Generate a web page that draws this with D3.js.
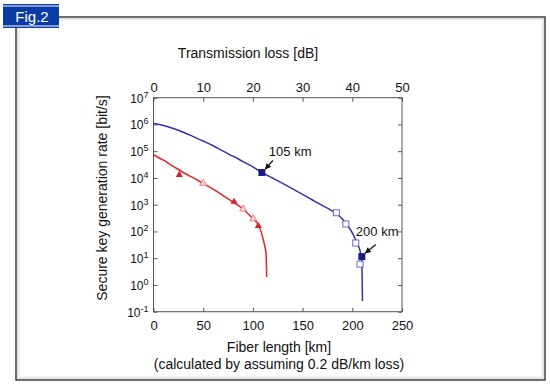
<!DOCTYPE html>
<html>
<head>
<meta charset="utf-8">
<script src="https://cdn.jsdelivr.net/npm/d3@7"></script>
<style>
  body { margin: 0; background: #fff; }
  svg { display: block; font-family: "Liberation Sans", Arial, sans-serif; }
</style>
</head>
<body>
<div class="chart"></div>
<script>
// blue curve (fiber length km, key rate bit/s)
const blueKm = [0, 10, 20, 30, 40, 50, 60, 70, 80, 90, 100, 109, 120, 140, 160, 170, 180, 185, 190, 195, 200, 203, 205, 207.7, 208.5, 209.6, 209.9, 210.2];
const blueRate = [1.1e6, 9.1e5, 7.1e5, 5.1e5, 3.5e5, 2.4e5, 1.6e5, 1.0e5, 6.5e4, 4.1e4, 2.6e4, 1.6e4, 9.8e3, 3.9e3, 1.5e3, 930, 580, 440, 290, 170, 89, 52, 33, 20, 14, 7.1, 2.0, 0.25];
const blueOpen = [[184, 500], [193.5, 190], [203.5, 37], [207.8, 6.0]];
const blueFilled = [[109, 1.6e4], [209.6, 11.5]];

// red curve
const redKm = [0, 10, 20, 30, 40, 50, 60, 70, 80, 90, 100, 105, 108, 110.5, 112, 113.2, 113.9];
const redRate = [7.4e4, 4.6e4, 2.7e4, 1.6e4, 1.0e4, 6.3e3, 3.8e3, 2.2e3, 1.26e3, 690, 300, 190, 105, 48, 28, 15.5, 2.0];
const redOpen = [[50, 6.3e3], [90.3, 690], [100.4, 300]];
const redFilled = [[26, 1.3e4], [81, 1.29e3], [105.4, 160]];

const kmTicks = [0, 50, 100, 150, 200, 250];
const dbTicks = [0, 10, 20, 30, 40, 50];
const expTicks = [-1, 0, 1, 2, 3, 4, 5, 6, 7];

const labels = [
  {at: [109, 1.6e4], text: "105 km"},
  {at: [209.6, 11.5], text: "200 km"}
];

const width = 550, height = 389;
const plotL = 153.5, plotR = 402, plotT = 97.7, plotB = 311.7;

const svg = d3.select("div.chart").append("svg")
    .attr("width", width).attr("height", height);

const defs = svg.append("defs");
defs.append("marker")
    .attr("id", "arrow")
    .attr("viewBox", "0 0 10 10")
    .attr("refX", 9).attr("refY", 5)
    .attr("markerWidth", 6).attr("markerHeight", 6)
    .attr("markerUnits", "userSpaceOnUse")
    .attr("orient", "auto")
    .append("path").attr("d", "M0,0 L10,5 L0,10 Z").attr("fill", "#111");

// frame with soft inner shadow
const fx = 16, fy = 17, fw = 529, fh = 363;
[0.12, 0.07, 0.035].forEach((o, i) => {
    svg.append("rect")
        .attr("x", fx + 1.5 + i).attr("y", fy + 1.5 + i)
        .attr("width", fw - 3 - 2 * i).attr("height", fh - 3 - 2 * i)
        .attr("fill", "none").attr("stroke", "#000").attr("stroke-opacity", o);
});
svg.append("rect")
    .attr("x", fx).attr("y", fy).attr("width", fw).attr("height", fh)
    .attr("fill", "none").attr("stroke", "#333").attr("stroke-width", 1.4);

// Fig.2 tab
svg.append("rect").attr("x", 3).attr("y", 4).attr("width", 56).attr("height", 24).attr("fill", "#0b3ba6");
svg.append("line").attr("x1", 3).attr("x2", 59).attr("y1", 6).attr("y2", 6).attr("stroke", "#fff").attr("stroke-width", 1);
svg.append("line").attr("x1", 3).attr("x2", 59).attr("y1", 26).attr("y2", 26).attr("stroke", "#fff").attr("stroke-width", 1);
svg.append("text").attr("x", 32).attr("y", 21.5).attr("text-anchor", "middle")
    .attr("fill", "#fff").attr("font-size", 15).text("Fig.2");

const x = d3.scaleLinear().domain([0, 250]).range([plotL, plotR]);
const xdb = d3.scaleLinear().domain([0, 50]).range([plotL, plotR]);
const y = d3.scaleLog().domain([0.1, 1e7]).range([plotB, plotT]);

// axes (ticks pointing inward)
const axisColor = "#555";
function styleAxis(g) {
    g.select(".domain").remove();
    g.selectAll(".tick line").attr("stroke", axisColor);
    g.selectAll(".tick text").attr("fill", "#111").attr("font-size", 13);
}
svg.append("g").attr("transform", `translate(0,${plotB})`)
    .call(d3.axisBottom(x).tickValues(kmTicks).tickSize(-4).tickPadding(9))
    .call(styleAxis);
svg.append("g").attr("transform", `translate(0,${plotT})`)
    .call(d3.axisTop(xdb).tickValues(dbTicks).tickSize(-4).tickPadding(6))
    .call(styleAxis);
svg.append("g").attr("transform", `translate(${plotR},0)`)
    .call(d3.axisRight(y).tickValues(expTicks.map(e => Math.pow(10, e))).tickSize(-4).tickFormat(""))
    .call(styleAxis);
const yAxis = svg.append("g").attr("transform", `translate(${plotL},0)`)
    .call(d3.axisLeft(y).tickValues(expTicks.map(e => Math.pow(10, e))).tickSize(-4).tickFormat(""))
    .call(styleAxis);
yAxis.selectAll(".tick").append("text")
    .attr("x", -5).attr("y", 4.5).attr("text-anchor", "end").attr("fill", "#111")
    .each(function (d) {
        const t = d3.select(this);
        t.append("tspan").attr("font-size", 12).text("10");
        t.append("tspan").attr("font-size", 9).attr("dy", -5).text(Math.round(Math.log10(d)));
    });

svg.append("rect")
    .attr("x", plotL).attr("y", plotT).attr("width", plotR - plotL).attr("height", plotB - plotT)
    .attr("fill", "none").attr("stroke", axisColor).attr("stroke-width", 1);

// titles
svg.append("text").attr("x", 248).attr("y", 58).attr("text-anchor", "middle")
    .attr("font-size", 14).attr("fill", "#111").text("Transmission loss [dB]");
svg.append("text").attr("x", 279).attr("y", 352).attr("text-anchor", "middle")
    .attr("font-size", 14).attr("fill", "#111").text("Fiber length [km]");
svg.append("text").attr("x", 279).attr("y", 369).attr("text-anchor", "middle")
    .attr("font-size", 14).attr("fill", "#111").text("(calculated by assuming 0.2 dB/km loss)");
svg.append("text").attr("transform", "translate(107,198) rotate(-90)").attr("text-anchor", "middle")
    .attr("font-size", 14).attr("fill", "#111").text("Secure key generation rate [bit/s]");

// curves
const line = d3.line().x(d => x(d[0])).y(d => y(d[1])).curve(d3.curveMonotoneX);
const blue = "#3232a6", red = "#e3242b";
svg.append("path").datum(d3.zip(blueKm, blueRate)).attr("d", line)
    .attr("fill", "none").attr("stroke", blue).attr("stroke-width", 1.5);
svg.append("path").datum(d3.zip(redKm, redRate)).attr("d", line)
    .attr("fill", "none").attr("stroke", red).attr("stroke-width", 1.5);

// markers
svg.selectAll(".bopen").data(blueOpen).join("rect")
    .attr("x", d => x(d[0]) - 3).attr("y", d => y(d[1]) - 3).attr("width", 6).attr("height", 6)
    .attr("fill", "#fff").attr("stroke", "#6666c8").attr("stroke-width", 1);
svg.selectAll(".bfill").data(blueFilled).join("rect")
    .attr("x", d => x(d[0]) - 3.5).attr("y", d => y(d[1]) - 3.5).attr("width", 7).attr("height", 7)
    .attr("fill", "#1c1c86");
const tri = d3.symbol().type(d3.symbolTriangle).size(22);
svg.selectAll(".ropen").data(redOpen).join("path")
    .attr("d", tri).attr("transform", d => `translate(${x(d[0])},${y(d[1])})`)
    .attr("fill", "#f9d4d4").attr("stroke", "#ea6a6a").attr("stroke-width", 0.8);
svg.selectAll(".rfill").data(redFilled).join("path")
    .attr("d", tri).attr("transform", d => `translate(${x(d[0])},${y(d[1])})`)
    .attr("fill", "#d81e24");

// annotations
labels.forEach((l, i) => {
    const px = x(l.at[0]), py = y(l.at[1]);
    const tail = i === 0 ? [11, -12] : [14, -12];
    svg.append("line")
        .attr("x1", px + tail[0]).attr("y1", py + tail[1])
        .attr("x2", px + 3.5).attr("y2", py - 3.5)
        .attr("stroke", "#111").attr("stroke-width", 1.2).attr("marker-end", "url(#arrow)");
    svg.append("text")
        .attr("x", i === 0 ? px + 7 : px - 6).attr("y", i === 0 ? py - 16 : py - 21)
        .attr("font-size", 13).attr("fill", "#111").text(l.text);
});
</script>
</body>
</html>
